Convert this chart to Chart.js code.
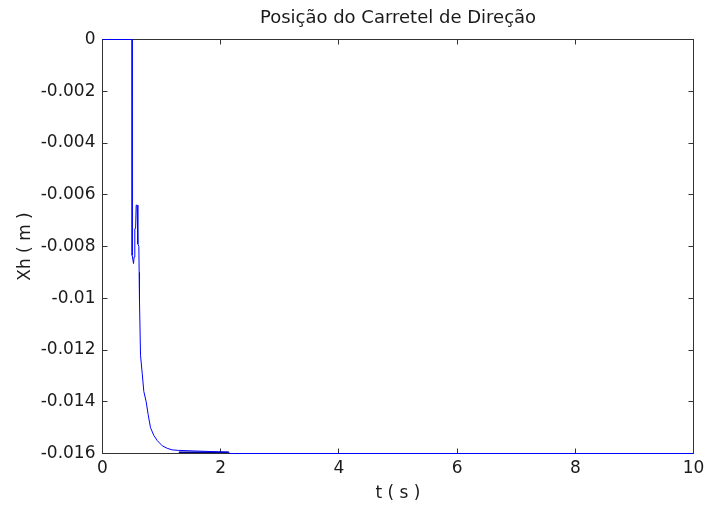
<!DOCTYPE html>
<html>
<head>
<meta charset="utf-8">
<title>Posição do Carretel de Direção</title>
<script src="https://cdn.jsdelivr.net/npm/chart.js@4.4.0/dist/chart.umd.min.js"></script>
<style>
    html, body { margin: 0; padding: 0; background: #fff; }
    #wrap { width: 707px; height: 510px; }
</style>
</head>
<body>
<div id="wrap"><canvas id="spoolChart" width="707" height="510"></canvas></div>
<script>
// Spool position response (time in s, position in m)
const timeValues = [0, 0.50, 0.502, 0.525, 0.535, 0.547, 0.560, 0.570, 0.585, 0.598, 0.615, 0.620, 0.626,
    0.643, 0.672, 0.699, 0.739, 0.773, 0.812, 0.868, 0.926, 1.010, 1.095, 1.179, 1.291, 2.137, 2.15, 10];
const xhValues = [0, 0, -0.00834, -0.00866, -0.0084, -0.00731, -0.0073, -0.0064, -0.0064, -0.0079, -0.0080, -0.0090, -0.0101,
    -0.0122, -0.0129, -0.0136, -0.0140, -0.0145, -0.0150, -0.0153, -0.0155, -0.0157, -0.0158, -0.01586, -0.01588, -0.01595, -0.016, -0.016];

// short settled stretch drawn heavier
const settleTime = [1.291, 2.137];
const settleValues = [-0.01595, -0.01595];

const xTicks = [0, 2, 4, 6, 8, 10];
const yTickLabels = ['0', '-0.002', '-0.004', '-0.006', '-0.008', '-0.01', '-0.012', '-0.014', '-0.016'];

const fontFamily = "'DejaVu Sans', Verdana, sans-serif";
const textColor = '#1a1a1a';
const boxColor = '#333333';

function toPoints(xs, ys) {
    return xs.map((x, i) => ({ x: x, y: ys[i] }));
}

// Frame around the axes with inward tick marks; title centred over the plot
const axesBox = {
    id: 'axesBox',
    afterLayout(chart) {
        if (chart.titleBlock) {
            chart.titleBlock.left = chart.chartArea.left;
            chart.titleBlock.right = chart.chartArea.right;
        }
    },
    beforeDatasetsDraw(chart) {
        const { ctx, chartArea: a, scales } = chart;
        const len = 5;
        const snap = v => Math.floor(v) + 0.5;
        ctx.save();
        ctx.strokeStyle = boxColor;
        ctx.lineWidth = 1;
        const l = snap(a.left), r = snap(a.right), t = snap(a.top), b = snap(a.bottom);
        ctx.strokeRect(l, t, r - l, b - t);
        ctx.beginPath();
        scales.x.ticks.forEach((tk, i) => {
            const px = snap(scales.x.getPixelForTick(i));
            ctx.moveTo(px, b);
            ctx.lineTo(px, b - len);
            ctx.moveTo(px, t);
            ctx.lineTo(px, t + len);
        });
        scales.y.ticks.forEach((tk, i) => {
            const py = snap(scales.y.getPixelForTick(i));
            ctx.moveTo(l, py);
            ctx.lineTo(l + len, py);
            ctx.moveTo(r, py);
            ctx.lineTo(r - len, py);
        });
        ctx.stroke();
        ctx.restore();
    }
};

new Chart(document.getElementById('spoolChart').getContext('2d'), {
    type: 'scatter',
    data: {
        datasets: [{
            data: toPoints(timeValues, xhValues),
            showLine: true,
            borderColor: 'rgb(0, 0, 255)',
            borderWidth: 1,
            pointRadius: 0,
            tension: 0,
            clip: false
        }, {
            data: toPoints(settleTime, settleValues),
            showLine: true,
            borderColor: 'rgb(0, 0, 140)',
            borderWidth: 1.5,
            pointRadius: 0,
            clip: false
        }]
    },
    options: {
        responsive: false,
        animation: false,
        layout: { padding: { right: 13.5 } },
        plugins: {
            legend: { display: false },
            tooltip: { enabled: false },
            title: {
                display: true,
                text: 'Posição do Carretel de Direção',
                color: textColor,
                font: { family: fontFamily, size: 18, weight: 'normal', lineHeight: 1.2 },
                padding: { top: 8, bottom: 9.9 }
            }
        },
        scales: {
            x: {
                type: 'linear',
                min: 0,
                max: 10,
                afterBuildTicks(scale) {
                    scale.ticks = xTicks.map(v => ({ value: v }));
                },
                afterFit(scale) {
                    scale.height = 56.5;
                    scale.paddingLeft = 0;
                    scale.paddingRight = 0;
                },
                grid: { display: false, drawTicks: false },
                border: { display: false },
                ticks: {
                    color: textColor,
                    font: { family: fontFamily, size: 17 },
                    padding: 5,
                    maxRotation: 0,
                    callback: v => String(v)
                },
                title: {
                    display: true,
                    text: 't ( s )',
                    color: textColor,
                    font: { family: fontFamily, size: 17 },
                    padding: { top: 6, bottom: 6 }
                }
            },
            y: {
                type: 'linear',
                min: -0.016,
                max: 0,
                afterBuildTicks(scale) {
                    scale.ticks = yTickLabels.map(lbl => ({ value: Number(lbl) }));
                },
                afterFit(scale) {
                    scale.width = 102.5;
                    scale.paddingTop = 0;
                    scale.paddingBottom = 0;
                },
                grid: { display: false, drawTicks: false },
                border: { display: false },
                ticks: {
                    color: textColor,
                    font: { family: fontFamily, size: 17 },
                    padding: 7,
                    callback: (v) => {
                        const hit = yTickLabels.find(lbl => Math.abs(Number(lbl) - v) < 1e-9);
                        return hit !== undefined ? hit : '';
                    }
                },
                title: {
                    display: true,
                    text: 'Xh ( m )',
                    color: textColor,
                    font: { family: fontFamily, size: 17 },
                    padding: { top: 15, bottom: 15 }
                }
            }
        }
    },
    plugins: [axesBox]
});
</script>
</body>
</html>
